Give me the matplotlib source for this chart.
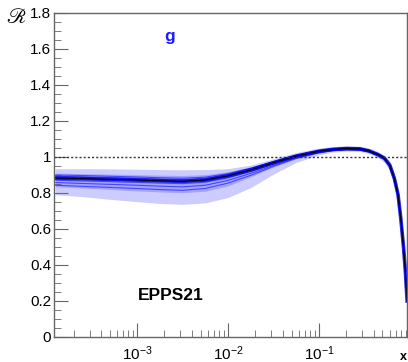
import numpy as np
import matplotlib
matplotlib.use("Agg")
import matplotlib.pyplot as plt
from matplotlib.ticker import FixedLocator, FuncFormatter, MultipleLocator

plt.rcParams['font.family'] = ['Liberation Sans', 'DejaVu Sans']
plt.rcParams['mathtext.fontset'] = 'custom'
plt.rcParams['mathtext.rm'] = 'Liberation Sans'
plt.rcParams['mathtext.it'] = 'Liberation Sans:italic'
plt.rcParams['mathtext.bf'] = 'Liberation Sans:bold'

# ---- data ----
log_x = [-3.9, -3.6, -3.3, -3.0, -2.75, -2.5, -2.25, -2.0, -1.75, -1.5, -1.25, -1.0,
         -0.85, -0.7, -0.55, -0.45, -0.35, -0.28, -0.22, -0.17, -0.13, -0.1, -0.07, -0.05, -0.03]
central = [0.883, 0.880, 0.876, 0.872, 0.868, 0.865, 0.872, 0.895, 0.928, 0.968, 1.005, 1.032,
           1.042, 1.047, 1.045, 1.034, 1.013, 0.993, 0.954, 0.880, 0.790, 0.660, 0.500, 0.370, 0.200]
outer_hi = [0.935, 0.935, 0.934, 0.932, 0.930, 0.929, 0.930, 0.935, 0.955, 0.990, 1.025, 1.050,
            1.058, 1.062, 1.060, 1.050, 1.030, 1.010, 0.975, 0.905, 0.820, 0.690, 0.530, 0.395, 0.220]
outer_lo = [0.790, 0.780, 0.765, 0.752, 0.742, 0.737, 0.745, 0.775, 0.830, 0.905, 0.970, 1.012,
            1.027, 1.033, 1.031, 1.020, 0.997, 0.970, 0.925, 0.850, 0.760, 0.630, 0.470, 0.345, 0.180]
inner_hi = [0.910, 0.908, 0.905, 0.902, 0.899, 0.897, 0.902, 0.918, 0.945, 0.980, 1.015, 1.040,
            1.050, 1.054, 1.052, 1.042, 1.022, 1.002, 0.963, 0.890, 0.800, 0.670, 0.510, 0.380, 0.210]
inner_lo = [0.835, 0.828, 0.820, 0.812, 0.806, 0.802, 0.810, 0.840, 0.890, 0.945, 0.990, 1.022,
            1.034, 1.039, 1.037, 1.027, 1.006, 0.985, 0.945, 0.868, 0.778, 0.648, 0.488, 0.358, 0.190]
member_1 = [0.900, 0.897, 0.893, 0.889, 0.885, 0.882, 0.888, 0.908, 0.938, 0.975, 1.010, 1.036,
            1.046, 1.051, 1.049, 1.038, 1.018, 0.998, 0.958, 0.884, 0.794, 0.664, 0.504, 0.374, 0.204]
member_2 = [0.871, 0.867, 0.863, 0.859, 0.855, 0.852, 0.860, 0.884, 0.919, 0.961, 1.000, 1.028,
            1.038, 1.043, 1.041, 1.031, 1.010, 0.990, 0.950, 0.875, 0.786, 0.656, 0.496, 0.366, 0.197]
member_3 = [0.858, 0.853, 0.848, 0.843, 0.838, 0.834, 0.843, 0.870, 0.909, 0.954, 0.995, 1.025,
            1.036, 1.041, 1.039, 1.029, 1.008, 0.988, 0.948, 0.873, 0.784, 0.654, 0.494, 0.364, 0.196]
member_4 = [0.843, 0.837, 0.831, 0.825, 0.819, 0.815, 0.825, 0.855, 0.898, 0.948, 0.992, 1.023,
            1.035, 1.040, 1.038, 1.028, 1.007, 0.987, 0.947, 0.871, 0.782, 0.652, 0.492, 0.362, 0.195]
member_5 = [0.893, 0.890, 0.886, 0.882, 0.878, 0.875, 0.882, 0.903, 0.935, 0.973, 1.009, 1.035,
            1.045, 1.050, 1.048, 1.037, 1.016, 0.996, 0.957, 0.883, 0.793, 0.662, 0.502, 0.372, 0.203]
members = [member_1, member_2, member_3, member_4, member_5]
y_ticks = [0, 0.2, 0.4, 0.6, 0.8, 1.0, 1.2, 1.4, 1.6, 1.8]
y_tick_labels = ['0', '0.2', '0.4', '0.6', '0.8', '1', '1.2', '1.4', '1.6', '1.8']
x_major = [1e-3, 1e-2, 1e-1]
x_major_labels = [r'$\mathregular{10^{-3}}$', r'$\mathregular{10^{-2}}$', r'$\mathregular{10^{-1}}$']

x = 10 ** np.array(log_x)

W, H = 408, 362
fig = plt.figure(figsize=(W / 100, H / 100), dpi=100)
ax = fig.add_axes([54 / W, (H - 337) / H, (407 - 54) / W, (337 - 13) / H])

ax.fill_between(x, outer_lo, outer_hi, color=(0.80, 0.80, 1.0), lw=0)
ax.fill_between(x, inner_lo, inner_hi, color=(0.64, 0.64, 1.0), lw=0)
for m in members:
    ax.plot(x, m, color=(0.15, 0.15, 1.0), lw=0.8, alpha=0.75)
ax.plot(x, central, color=(0.0, 0.0, 0.85), lw=2.6, alpha=0.85)
ax.plot(x, central, color='black', lw=0.7)

ax.axhline(1.0, color='#333333', lw=1.0, ls=(0, (1.5, 1.5)))

ax.set_xscale('log')
ax.set_xlim(1.22e-4, 0.93)
ax.set_ylim(0, 1.8)

spine_c = '#666666'
for s in ax.spines.values():
    s.set_color(spine_c)
    s.set_linewidth(1.0)

ax.yaxis.set_major_locator(FixedLocator(y_ticks))
ax.set_yticklabels(y_tick_labels)
ax.yaxis.set_minor_locator(MultipleLocator(0.05))
ax.set_xticks(x_major)
ax.set_xticklabels(x_major_labels)
minor = [m * 10.0 ** e for e in range(-4, 0) for m in range(2, 10)]
ax.xaxis.set_minor_locator(FixedLocator(minor))
ax.xaxis.set_minor_formatter(FuncFormatter(lambda v, p: ''))

ax.tick_params(which='both', direction='in', color=spine_c, top=False, right=False,
               labelsize=11, labelcolor='black')
ax.tick_params(axis='y', which='major', length=10, pad=2)
ax.tick_params(axis='y', which='minor', length=5)
ax.tick_params(axis='x', which='major', length=10, pad=5)
ax.tick_params(axis='x', which='minor', length=5)

fig.text(6 / W, 1 - 18 / H, '\u211B', family='STIXGeneral', fontsize=15, style='italic',
         va='center', ha='left')
fig.text(170 / W, 1 - 37 / H, 'g', color=(0.1, 0.1, 1.0),
         fontsize=12.5, fontweight='bold', ha='center', va='center')
fig.text(138 / W, 1 - 295 / H, 'EPPS21', color='black',
         fontsize=12.5, fontweight='bold', ha='left', va='center')
fig.text(403 / W, 1 - 357 / H, 'x', fontsize=9, fontweight='bold', ha='center', va='center')

fig.savefig('out.png', dpi=100)
